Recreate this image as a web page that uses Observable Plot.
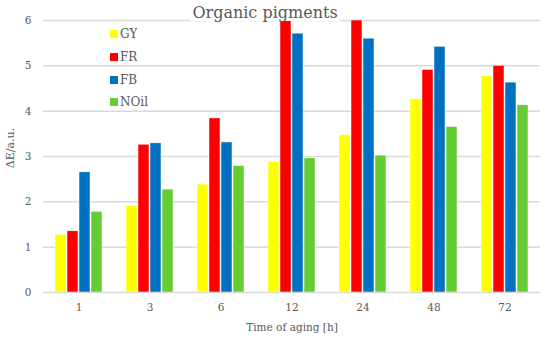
<!DOCTYPE html>
<html><head><meta charset="utf-8">
<script src="https://cdn.jsdelivr.net/npm/d3@7"></script>
<script src="https://cdn.jsdelivr.net/npm/@observablehq/plot@0.6"></script>
<style>
body{margin:0;background:#fff;}
#wrap{position:relative;width:550px;height:341px;font-family:"DejaVu Serif",serif;color:#595959;overflow:hidden;}
#chart{position:absolute;left:0;top:0;}
#title{position:absolute;left:190px;top:0;width:150px;height:21px;background:#fff;text-align:center;font-size:16px;line-height:25px;color:#595959;white-space:nowrap;}
#ylabel{position:absolute;left:10px;top:148px;transform:translate(-50%,-50%) rotate(-90deg);font-size:11px;color:#595959;white-space:nowrap;}
#legend{position:absolute;left:110px;top:23px;}
#legend .lg-swatches{margin:0 !important;min-height:0 !important;}
#legend .lg-swatch{height:22.7px;margin:0 !important;padding:0 !important;font-size:12px;color:#595959;font-family:"DejaVu Serif",serif;display:flex;align-items:center;}
#legend .lg-swatch svg{margin-right:2px !important;}
</style></head><body>
<div id="wrap"><div id="chart"></div><div id="title">Organic pigments</div><div id="ylabel">ΔE/a.u.</div><div id="legend"></div></div>
<script>
const times = ["1", "3", "6", "12", "24", "48", "72"];
const series = ["GY", "FR", "FB", "NOil"];
const colors = ["#ffff00", "#ff0000", "#0070c0", "#66cc33"];
const GY   = [1.27, 1.90, 2.38, 2.88, 3.47, 4.26, 4.77];
const FR   = [1.35, 3.26, 3.84, 6.00, 6.00, 4.91, 5.00];
const FB   = [2.65, 3.29, 3.31, 5.71, 5.60, 5.42, 4.63];
const NOil = [1.78, 2.27, 2.79, 2.96, 3.02, 3.65, 4.13];
const yTicks = [0, 1, 2, 3, 4, 5, 6];

const valuesBySeries = {GY, FR, FB, NOil};
const rows = [];
times.forEach((t, i) => series.forEach(s => rows.push({time: t, series: s, value: valuesBySeries[s][i]})));

const font = "DejaVu Serif, serif";
const chart = Plot.plot({
  width: 550, height: 341,
  marginTop: 20, marginBottom: 49, marginLeft: 40, marginRight: 8,
  style: {fontFamily: font, fontSize: "10.5px", color: "#595959", background: "#fff", overflow: "visible"},
  fx: {domain: times, padding: 0, label: "Time of aging [h]", labelAnchor: "center", labelOffset: 38, tickSize: 0, tickPadding: 11},
  x: {domain: series, axis: null, paddingInner: 0.05, paddingOuter: 0.8},
  y: {domain: [0, 6], ticks: yTicks, tickFormat: d3.format("d"), tickSize: 0, tickPadding: 12, label: null},
  color: {domain: series, range: colors},
  marks: [
    Plot.gridY(yTicks, {stroke: "#d9d9d9", strokeOpacity: 1, strokeWidth: 1.5}),
    Plot.barY(rows, {fx: "time", x: "series", y: "value", fill: "series", stroke: "#ffffff", strokeWidth: 0.5, clip: true})
  ]
});
document.getElementById("chart").appendChild(chart);

const legend = Plot.legend({
  color: {domain: series, range: colors, type: "categorical"},
  legend: "swatches", columns: 1, swatchSize: 8, className: "lg"
});
document.getElementById("legend").appendChild(legend);
</script>
</body></html>
